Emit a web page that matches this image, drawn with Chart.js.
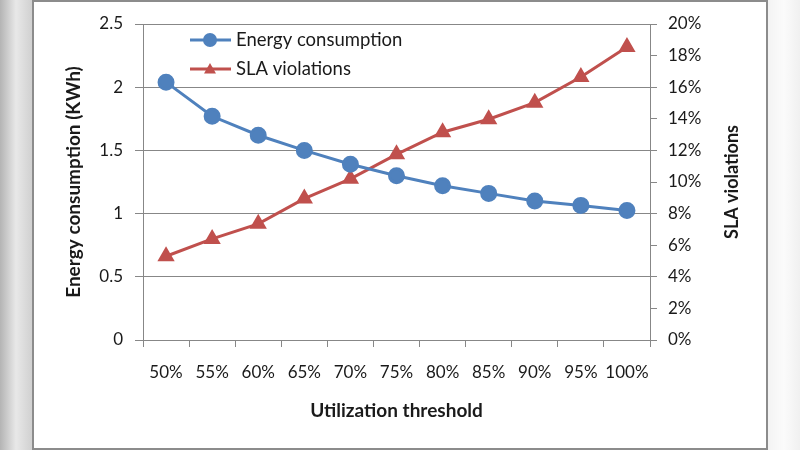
<!DOCTYPE html>
<html>
<head>
<meta charset="utf-8">
<script src="https://cdn.jsdelivr.net/npm/chart.js@4/dist/chart.umd.min.js"></script>
<style>
    html, body {
        margin: 0;
        padding: 0;
    }
    body {
        width: 800px;
        height: 450px;
        position: relative;
        overflow: hidden;
        background: linear-gradient(to right, #b4b4b4 0px, #e8e8e8 16px, #d2d2d2 31px, #f3f3f3 768px, #fbfbfb 784px, #f0f0f0 800px);
    }
    .frame {
        position: absolute;
        left: 32px;
        top: 0;
        width: 732px;
        height: 446px;
        border: 2px solid #8c8c8c;
        background: #fff;
    }
    #chart {
        position: absolute;
        left: 0;
        top: 0;
    }
</style>
</head>
<body>
<div class="frame"></div>
<canvas id="chart" width="800" height="450"></canvas>
<script>
// Chart data
const thresholds = ['50%', '55%', '60%', '65%', '70%', '75%', '80%', '85%', '90%', '95%', '100%'];
const energyConsumption = [2.04, 1.77, 1.62, 1.50, 1.39, 1.30, 1.22, 1.16, 1.10, 1.065, 1.025];
const slaViolations = [5.3, 6.4, 7.35, 8.95, 10.2, 11.75, 13.15, 13.97, 15.02, 16.64, 18.55];

const colors = {
    blue: '#4f81bd',
    red: '#c0504d',
    grid: '#878787',
    text: '#1a1a1a'
};

const fontFamily = 'Lato, "Open Sans", sans-serif';

// Legend inside the plot area: line sample with marker, then label
const insideLegend = {
    id: 'insideLegend',
    afterDraw(chart) {
        const ctx = chart.ctx;
        const rows = [
            { label: 'Energy consumption', color: colors.blue, marker: 'circle', y: 40 },
            { label: 'SLA violations', color: colors.red, marker: 'triangle', y: 69 }
        ];
        ctx.save();
        rows.forEach(row => {
            ctx.strokeStyle = row.color;
            ctx.fillStyle = row.color;
            ctx.lineWidth = 3;
            ctx.beginPath();
            ctx.moveTo(190, row.y);
            ctx.lineTo(231, row.y);
            ctx.stroke();
            ctx.beginPath();
            if (row.marker === 'circle') {
                ctx.arc(210, row.y, 7, 0, Math.PI * 2);
            } else {
                ctx.moveTo(210, row.y - 6);
                ctx.lineTo(216, row.y + 4.5);
                ctx.lineTo(204, row.y + 4.5);
                ctx.closePath();
            }
            ctx.fill();
            ctx.fillStyle = colors.text;
            ctx.font = '18.5px ' + fontFamily;
            ctx.textBaseline = 'middle';
            ctx.textAlign = 'left';
            ctx.fillText(row.label, 236, row.y);
        });
        ctx.restore();
    }
};

// Right axis title reads bottom-to-top, so it is drawn here
const rightTitle = {
    id: 'rightTitle',
    afterDraw(chart) {
        const ctx = chart.ctx;
        const area = chart.chartArea;
        ctx.save();
        ctx.translate(732, (area.top + area.bottom) / 2);
        ctx.rotate(-Math.PI / 2);
        ctx.fillStyle = colors.text;
        ctx.font = 'bold 18px ' + fontFamily;
        ctx.textAlign = 'center';
        ctx.textBaseline = 'middle';
        ctx.fillText('SLA violations', 0, 0);
        ctx.restore();
    }
};

new Chart(document.getElementById('chart'), {
    type: 'line',
    data: {
        labels: thresholds,
        datasets: [
            {
                label: 'Energy consumption',
                data: energyConsumption,
                yAxisID: 'yEnergy',
                borderColor: colors.blue,
                backgroundColor: colors.blue,
                borderWidth: 3,
                pointStyle: 'circle',
                pointRadius: 7,
                pointHoverRadius: 7,
                tension: 0
            },
            {
                label: 'SLA violations',
                data: slaViolations,
                yAxisID: 'ySla',
                borderColor: colors.red,
                backgroundColor: colors.red,
                borderWidth: 3,
                pointStyle: 'triangle',
                pointRadius: 7,
                pointHoverRadius: 7,
                tension: 0
            }
        ]
    },
    options: {
        responsive: false,
        animation: false,
        devicePixelRatio: 1,
        layout: {
            padding: { top: 24, left: 0, right: 0, bottom: 0 }
        },
        plugins: {
            legend: { display: false },
            tooltip: { enabled: false }
        },
        scales: {
            x: {
                offset: true,
                grid: {
                    offset: true,
                    drawOnChartArea: false,
                    color: colors.grid,
                    tickLength: 7
                },
                border: { color: colors.grid },
                ticks: {
                    color: colors.text,
                    padding: 15,
                    maxRotation: 0,
                    autoSkip: false,
                    font: { family: fontFamily, size: 17 }
                },
                title: {
                    display: true,
                    text: 'Utilization threshold',
                    color: colors.text,
                    padding: { top: 0, bottom: 28 },
                    font: { family: fontFamily, size: 19, weight: 'bold' }
                },
                afterFit(scale) { scale.height = 110; }
            },
            yEnergy: {
                position: 'left',
                min: 0,
                max: 2.5,
                ticks: {
                    stepSize: 0.5,
                    color: colors.text,
                    padding: 12,
                    font: { family: fontFamily, size: 17 },
                    callback: value => String(value)
                },
                grid: {
                    color: colors.grid,
                    tickLength: 8
                },
                border: { color: colors.grid },
                title: {
                    display: true,
                    text: 'Energy consumption (KWh)',
                    color: colors.text,
                    padding: { top: 62, bottom: 0 },
                    font: { family: fontFamily, size: 19, weight: 'bold' }
                },
                afterFit(scale) { scale.width = 143; }
            },
            ySla: {
                position: 'right',
                min: 0,
                max: 20,
                ticks: {
                    stepSize: 2,
                    color: colors.text,
                    padding: 11,
                    font: { family: fontFamily, size: 17 },
                    callback: value => value + '%'
                },
                grid: {
                    drawOnChartArea: false,
                    color: colors.grid,
                    tickLength: 7
                },
                border: { color: colors.grid },
                afterFit(scale) { scale.width = 150; }
            }
        }
    },
    plugins: [insideLegend, rightTitle]
});
</script>
</body>
</html>
